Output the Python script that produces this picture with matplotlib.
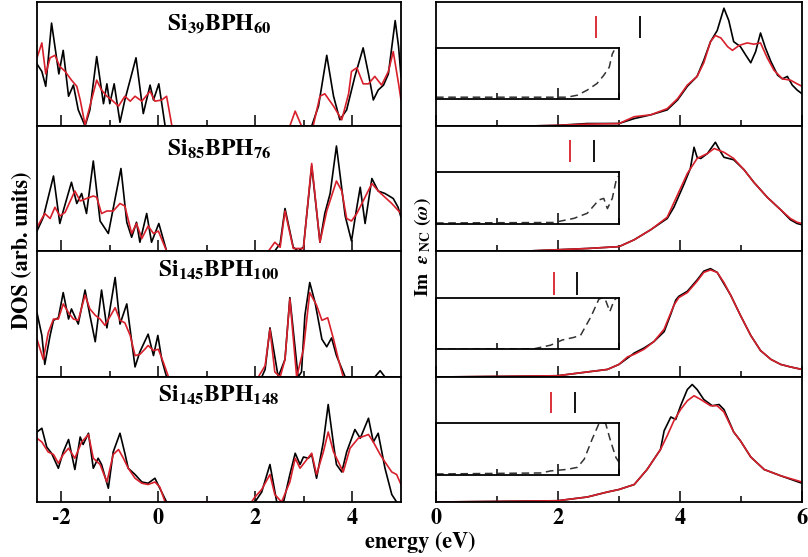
import matplotlib
matplotlib.use('Agg')
import matplotlib.pyplot as plt

plt.rcParams['font.family'] = 'STIXGeneral'
plt.rcParams['font.weight'] = 'bold'
plt.rcParams['mathtext.fontset'] = 'stix'
plt.rcParams['axes.unicode_minus'] = False

# ---- DOS (left column), energy in eV, DOS normalised to panel height ----
# Si39BPH60
dos1_e_blk = [-2.50, -2.40, -2.32, -2.20, -2.09, -2.05, -1.96, -1.85, -1.75, -1.65, -1.51, -1.41, -1.27, -1.13,
              -1.06, -1.00, -0.91, -0.79, -0.69, -0.46, -0.31, -0.17, -0.10, 0.01, 0.14,
              3.16, 3.30, 3.47, 3.61, 3.74, 3.88, 4.05, 4.22, 4.33, 4.43, 4.53, 4.64, 4.74, 4.88, 4.95, 5.00]
dos1_blk = [0.50, 0.44, 0.32, 0.83, 0.53, 0.42, 0.61, 0.24, 0.33, 0.13, 0.00, 0.13, 0.56, 0.18,
            0.34, 0.18, 0.34, 0.03, 0.21, 0.55, 0.10, 0.33, 0.21, 0.34, 0.00,
            0.00, 0.16, 0.57, 0.24, 0.05, 0.13, 0.40, 0.63, 0.42, 0.21, 0.29, 0.33, 0.42, 0.85, 0.64, 0.40]
dos1_e_red = [-2.50, -2.40, -2.32, -2.23, -2.13, -2.03, -1.92, -1.79, -1.68, -1.61, -1.51, -1.41, -1.27, -1.17,
              -1.06, -0.96, -0.82, -0.69, -0.58, -0.48, -0.34, -0.17, -0.07, 0.07, 0.17, 0.28,
              2.71, 2.82, 2.95, 3.19, 3.33, 3.43, 3.61, 3.78, 3.92, 3.98, 4.09, 4.22, 4.33, 4.46, 4.60, 4.74,
              4.84, 4.95, 5.00]
dos1_red = [0.55, 0.67, 0.42, 0.55, 0.57, 0.48, 0.44, 0.37, 0.32, 0.21, 0.01, 0.16, 0.37, 0.29,
            0.24, 0.21, 0.16, 0.24, 0.20, 0.24, 0.20, 0.28, 0.20, 0.21, 0.24, 0.00,
            0.00, 0.12, 0.00, 0.00, 0.24, 0.26, 0.16, 0.05, 0.26, 0.44, 0.47, 0.34, 0.34, 0.40, 0.33, 0.44,
            0.60, 0.34, 0.21]

# Si85BPH76
dos2_e_blk = [-2.50, -2.37, -2.16, -2.03, -1.96, -1.79, -1.68, -1.58, -1.48, -1.34, -1.20, -1.03, -0.93, -0.77,
              -0.65, -0.55, -0.45, -0.38, -0.24, -0.14, 0.01, 0.17,
              2.40, 2.51, 2.61, 2.78, 2.88, 2.99, 3.16, 3.33, 3.43, 3.54, 3.67, 3.85, 3.98, 4.09, 4.16, 4.26,
              4.40, 4.53, 4.67, 4.84, 4.94, 5.00]
dos2_blk = [0.16, 0.27, 0.60, 0.22, 0.32, 0.55, 0.38, 0.46, 0.30, 0.72, 0.24, 0.14, 0.34, 0.66,
            0.23, 0.11, 0.23, 0.07, 0.30, 0.07, 0.22, 0.00,
            0.00, 0.06, 0.34, 0.03, 0.00, 0.03, 0.68, 0.07, 0.30, 0.46, 0.84, 0.28, 0.08, 0.35, 0.51, 0.22,
            0.58, 0.48, 0.46, 0.42, 0.35, 0.27]
dos2_e_red = [-2.50, -2.34, -2.23, -2.13, -2.03, -1.92, -1.72, -1.61, -1.48, -1.34, -1.27, -1.17, -1.06, -0.93,
              -0.79, -0.69, -0.55, -0.45, -0.34, -0.21, -0.10, 0.00, 0.17,
              2.27, 2.40, 2.51, 2.61, 2.78, 2.99, 3.16, 3.33, 3.47, 3.67, 3.78, 3.88, 3.98, 4.09, 4.22, 4.40,
              4.53, 4.67, 4.81, 5.00]
dos2_red = [0.19, 0.30, 0.26, 0.35, 0.28, 0.31, 0.48, 0.40, 0.42, 0.44, 0.43, 0.30, 0.32, 0.32,
            0.38, 0.36, 0.14, 0.22, 0.10, 0.20, 0.14, 0.16, 0.00,
            0.00, 0.07, 0.03, 0.32, 0.02, 0.02, 0.70, 0.07, 0.32, 0.56, 0.48, 0.26, 0.24, 0.30, 0.40, 0.54,
            0.48, 0.43, 0.38, 0.30]

# Si145BPH100
dos3_e_blk = [-2.50, -2.40, -2.34, -2.23, -2.16, -2.06, -1.96, -1.85, -1.79, -1.65, -1.51, -1.41, -1.30, -1.17,
              -1.06, -0.89, -0.79, -0.65, -0.48, -0.38, -0.21, -0.10, -0.01, 0.07, 0.17,
              2.13, 2.20, 2.30, 2.47, 2.61, 2.71, 2.88, 2.95, 3.02, 3.12, 3.23, 3.37, 3.47, 3.57, 3.67, 3.85,
              4.46, 4.57, 4.67]
dos3_blk = [0.51, 0.33, 0.10, 0.33, 0.45, 0.47, 0.67, 0.46, 0.54, 0.42, 0.69, 0.49, 0.28, 0.69,
            0.39, 0.79, 0.42, 0.58, 0.08, 0.20, 0.34, 0.17, 0.33, 0.14, 0.00,
            0.00, 0.06, 0.39, 0.00, 0.14, 0.63, 0.00, 0.04, 0.49, 0.75, 0.59, 0.30, 0.24, 0.31, 0.17, 0.00,
            0.00, 0.05, 0.00]
dos3_e_red = [-2.50, -2.37, -2.27, -2.16, -2.06, -1.96, -1.85, -1.75, -1.65, -1.51, -1.41, -1.30, -1.20, -1.10,
              -0.89, -0.79, -0.69, -0.58, -0.48, -0.38, -0.28, -0.21, -0.10, 0.00, 0.10, 0.21,
              2.06, 2.20, 2.30, 2.40, 2.51, 2.61, 2.71, 2.85, 2.99, 3.12, 3.26, 3.37, 3.49, 3.61, 3.71, 3.81]
dos3_red = [0.30, 0.14, 0.35, 0.46, 0.46, 0.58, 0.51, 0.46, 0.45, 0.65, 0.54, 0.49, 0.46, 0.41,
            0.55, 0.45, 0.43, 0.33, 0.17, 0.18, 0.22, 0.25, 0.21, 0.22, 0.12, 0.00,
            0.00, 0.09, 0.38, 0.04, 0.00, 0.14, 0.62, 0.00, 0.22, 0.67, 0.57, 0.45, 0.47, 0.30, 0.14, 0.00]

# Si145BPH148
dos4_e_blk = [-2.50, -2.40, -2.30, -2.20, -2.06, -1.96, -1.85, -1.72, -1.61, -1.55, -1.44, -1.34, -1.24, -1.17,
              -1.03, -0.93, -0.79, -0.69, -0.62, -0.48, -0.34, -0.21, -0.07, 0.03, 0.17,
              1.99, 2.13, 2.30, 2.44, 2.58, 2.71, 2.82, 2.92, 2.99, 3.09, 3.16, 3.26, 3.40, 3.50, 3.61, 3.67,
              3.78, 3.88, 4.05, 4.16, 4.33, 4.43, 4.53, 4.67, 4.81, 4.91]
dos4_blk = [0.56, 0.59, 0.44, 0.39, 0.27, 0.40, 0.50, 0.26, 0.52, 0.46, 0.55, 0.27, 0.35, 0.30,
            0.11, 0.40, 0.55, 0.39, 0.27, 0.22, 0.16, 0.15, 0.19, 0.11, 0.00,
            0.00, 0.08, 0.30, 0.00, 0.00, 0.22, 0.39, 0.30, 0.36, 0.35, 0.38, 0.19, 0.48, 0.78, 0.46, 0.30,
            0.24, 0.40, 0.58, 0.51, 0.67, 0.48, 0.55, 0.27, 0.06, 0.00]
dos4_e_red = [-2.50, -2.40, -2.27, -2.16, -2.06, -1.96, -1.85, -1.72, -1.58, -1.44, -1.34, -1.20, -1.06, -0.93,
              -0.82, -0.72, -0.62, -0.48, -0.34, -0.21, -0.07, 0.03, 0.14,
              1.92, 1.99, 2.13, 2.30, 2.40, 2.54, 2.71, 2.82, 2.92, 3.02, 3.16, 3.26, 3.40, 3.50, 3.61, 3.71,
              3.81, 3.95, 4.12, 4.33, 4.43, 4.57, 4.67, 4.81, 4.91, 5.00]
dos4_red = [0.51, 0.48, 0.40, 0.38, 0.31, 0.38, 0.43, 0.35, 0.48, 0.54, 0.35, 0.30, 0.16, 0.38,
            0.42, 0.35, 0.27, 0.19, 0.15, 0.14, 0.16, 0.12, 0.00,
            0.00, 0.04, 0.10, 0.22, 0.06, 0.00, 0.16, 0.35, 0.27, 0.32, 0.39, 0.22, 0.40, 0.56, 0.40, 0.32,
            0.24, 0.43, 0.51, 0.54, 0.48, 0.38, 0.32, 0.24, 0.22, 0.14]

# ---- Im eps_NC (right column) ----
abs1_e_blk = [0.0, 1.50, 1.99, 2.48, 3.00, 3.25, 3.52, 3.79, 3.96, 4.12, 4.28, 4.39, 4.50, 4.61, 4.72,
              4.80, 4.88, 4.99, 5.08, 5.16, 5.24, 5.32, 5.40, 5.49, 5.60, 5.68, 5.76, 5.84, 5.92, 6.00]
abs1_blk = [0.0, 0.0, 0.005, 0.02, 0.02, 0.06, 0.09, 0.13, 0.21, 0.32, 0.40, 0.53, 0.68, 0.77, 0.95,
            0.85, 0.68, 0.64, 0.57, 0.51, 0.60, 0.75, 0.63, 0.52, 0.41, 0.38, 0.40, 0.33, 0.29, 0.26]
abs1_e_red = [0.0, 1.50, 1.99, 2.48, 3.00, 3.25, 3.52, 3.79, 3.96, 4.12, 4.28, 4.39, 4.50, 4.58, 4.67,
              4.78, 4.86, 4.97, 5.10, 5.21, 5.32, 5.43, 5.54, 5.68, 5.81, 5.92, 6.00]
abs1_red = [0.0, 0.0, 0.005, 0.015, 0.02, 0.075, 0.09, 0.14, 0.22, 0.33, 0.40, 0.51, 0.68, 0.73, 0.71,
            0.64, 0.61, 0.65, 0.67, 0.66, 0.67, 0.55, 0.45, 0.38, 0.37, 0.34, 0.32]

abs2_e_blk = [0.0, 1.50, 1.99, 2.48, 3.00, 3.25, 3.52, 3.79, 3.90, 4.07, 4.17, 4.23, 4.28, 4.34, 4.45,
              4.58, 4.67, 4.72, 4.88, 5.05, 5.21, 5.43, 5.65, 5.81, 5.92, 6.00]
abs2_blk = [0.0, 0.0, 0.01, 0.02, 0.035, 0.09, 0.17, 0.26, 0.35, 0.54, 0.66, 0.83, 0.75, 0.74, 0.78,
            0.87, 0.79, 0.75, 0.73, 0.65, 0.55, 0.43, 0.33, 0.25, 0.22, 0.21]
abs2_e_red = [0.0, 1.50, 1.99, 2.48, 3.00, 3.25, 3.52, 3.79, 3.96, 4.12, 4.28, 4.45, 4.56, 4.72, 4.88,
              5.05, 5.21, 5.43, 5.65, 5.81, 5.92, 6.00]
abs2_red = [0.0, 0.0, 0.01, 0.02, 0.035, 0.09, 0.17, 0.27, 0.45, 0.62, 0.74, 0.78, 0.82, 0.79, 0.74,
            0.65, 0.55, 0.43, 0.33, 0.26, 0.23, 0.22]

abs3_e_blk = [0.0, 1.06, 1.99, 2.48, 2.81, 3.00, 3.14, 3.25, 3.41, 3.57, 3.74, 3.85, 3.93, 3.98, 4.12,
              4.28, 4.39, 4.50, 4.61, 4.72, 4.83, 4.99, 5.16, 5.32, 5.49, 5.65, 5.81, 6.00]
abs3_blk = [0.0, 0.005, 0.01, 0.04, 0.06, 0.10, 0.15, 0.19, 0.23, 0.28, 0.36, 0.50, 0.61, 0.64, 0.68,
            0.77, 0.84, 0.86, 0.83, 0.74, 0.65, 0.49, 0.33, 0.21, 0.14, 0.10, 0.08, 0.06]
abs3_e_red = [0.0, 1.06, 1.99, 2.48, 2.81, 3.00, 3.14, 3.25, 3.41, 3.57, 3.74, 3.90, 3.98, 4.12, 4.28,
              4.39, 4.50, 4.61, 4.72, 4.83, 4.99, 5.16, 5.32, 5.49, 5.65, 5.81, 6.00]
abs3_red = [0.0, 0.005, 0.01, 0.04, 0.06, 0.10, 0.16, 0.18, 0.22, 0.28, 0.38, 0.57, 0.63, 0.67, 0.76,
            0.83, 0.85, 0.83, 0.75, 0.65, 0.49, 0.33, 0.21, 0.14, 0.10, 0.08, 0.06]

abs4_e_blk = [0.0, 1.06, 1.99, 2.48, 2.81, 3.00, 3.25, 3.46, 3.68, 3.74, 3.85, 3.93, 4.01, 4.12, 4.20,
              4.28, 4.39, 4.53, 4.64, 4.72, 4.88, 4.99, 5.16, 5.38, 5.65, 6.00]
abs4_blk = [0.0, 0.005, 0.01, 0.04, 0.08, 0.10, 0.14, 0.26, 0.42, 0.57, 0.68, 0.66, 0.77, 0.90, 0.94,
            0.90, 0.82, 0.77, 0.78, 0.74, 0.56, 0.49, 0.36, 0.26, 0.21, 0.15]
abs4_e_red = [0.0, 1.06, 1.99, 2.48, 2.81, 3.00, 3.25, 3.46, 3.68, 3.79, 3.90, 4.01, 4.12, 4.23, 4.34,
              4.50, 4.61, 4.72, 4.88, 4.99, 5.16, 5.38, 5.65, 6.00]
abs4_red = [0.0, 0.005, 0.01, 0.04, 0.08, 0.10, 0.14, 0.26, 0.42, 0.53, 0.65, 0.74, 0.81, 0.85, 0.82,
            0.77, 0.77, 0.72, 0.56, 0.49, 0.36, 0.26, 0.21, 0.16]

# insets (dashed, 0-3 eV)
ins1_e = [0.0, 2.15, 2.32, 2.48, 2.64, 2.75, 2.84, 2.89, 2.92]
ins1 = [0.03, 0.03, 0.07, 0.17, 0.30, 0.46, 0.62, 0.88, 0.95]
ins2_e = [0.0, 1.93, 2.26, 2.48, 2.67, 2.75, 2.81, 2.89, 2.96, 2.99]
ins2 = [0.01, 0.02, 0.10, 0.20, 0.46, 0.49, 0.29, 0.49, 0.88, 0.92]
ins3_e = [0.0, 1.61, 1.88, 2.07, 2.26, 2.37, 2.54, 2.67, 2.73, 2.78, 2.85, 2.92, 2.96]
ins3 = [0.0, 0.01, 0.08, 0.18, 0.23, 0.27, 0.63, 0.97, 1.0, 0.95, 0.73, 0.95, 0.99]
ins4_e = [0.0, 1.72, 1.88, 2.15, 2.32, 2.43, 2.56, 2.67, 2.73, 2.78, 2.86, 2.95, 3.00]
ins4 = [0.01, 0.03, 0.07, 0.10, 0.14, 0.30, 0.69, 0.99, 1.0, 1.0, 0.66, 0.33, 0.24]

# optical gap markers (eV)
gap_red = [2.63, 2.19, 1.93, 1.88]
gap_blk = [3.34, 2.59, 2.31, 2.28]

titles = [r'$\mathbf{Si_{39}BPH_{60}}$', r'$\mathbf{Si_{85}BPH_{76}}$',
          r'$\mathbf{Si_{145}BPH_{100}}$', r'$\mathbf{Si_{145}BPH_{148}}$']
left_ticklabels = ['-2', '0', '2', '4']
right_ticklabels = ['0', '2', '4', '6']

RED = '#d8202c'
W, H = 808, 557
edges = [2, 126, 251, 377, 502]
title_y = [0.77, 0.76, 0.80, 0.80]
mark_y = [(0.71, 0.89), (0.71, 0.89), (0.65, 0.83), (0.71, 0.88)]

dos_sets = [(dos1_e_blk, dos1_blk, dos1_e_red, dos1_red),
            (dos2_e_blk, dos2_blk, dos2_e_red, dos2_red),
            (dos3_e_blk, dos3_blk, dos3_e_red, dos3_red),
            (dos4_e_blk, dos4_blk, dos4_e_red, dos4_red)]
abs_sets = [(abs1_e_blk, abs1_blk, abs1_e_red, abs1_red),
            (abs2_e_blk, abs2_blk, abs2_e_red, abs2_red),
            (abs3_e_blk, abs3_blk, abs3_e_red, abs3_red),
            (abs4_e_blk, abs4_blk, abs4_e_red, abs4_red)]
ins_sets = [(ins1_e, ins1), (ins2_e, ins2), (ins3_e, ins3), (ins4_e, ins4)]


def style_axis(ax, major, minor):
    for s in ax.spines.values():
        s.set_linewidth(1.3)
    ax.set_xticks(major)
    ax.set_xticks(minor, minor=True)
    ax.set_yticks([])
    ax.tick_params(axis='x', which='major', direction='in', length=8, width=1.1, top=False)
    ax.tick_params(axis='x', which='minor', direction='in', length=4.5, width=1.1, top=False)


fig = plt.figure(figsize=(W / 100, H / 100), dpi=100)

for i in range(4):
    y0 = 1 - edges[i + 1] / H
    hgt = (edges[i + 1] - edges[i]) / H

    # DOS panel
    ax = fig.add_axes([37 / W, y0, 364 / W, hgt])
    e_k, d_k, e_r, d_r = dos_sets[i]
    ax.plot(e_k, d_k, color='black', lw=1.2)
    ax.plot(e_r, d_r, color=RED, lw=1.2)
    ax.set_xlim(-2.5, 5)
    ax.set_ylim(0, 1)
    style_axis(ax, [-2, 0, 2, 4], [-1, 1, 3])
    ax.text(0.5, title_y[i], titles[i], transform=ax.transAxes, ha='center', va='baseline', fontsize=17)
    if i == 3:
        ax.set_xticklabels(left_ticklabels)
        ax.tick_params(axis='x', labelsize=16, pad=4)
    else:
        ax.tick_params(axis='x', labelbottom=False)

    # absorption panel
    bx = fig.add_axes([436 / W, y0, 366 / W, hgt])
    e_k, a_k, e_r, a_r = abs_sets[i]
    bx.plot(e_k, a_k, color='black', lw=1.2)
    bx.plot(e_r, a_r, color=RED, lw=1.2)
    bx.vlines(gap_red[i], *mark_y[i], color=RED, lw=1.3)
    bx.vlines(gap_blk[i], *mark_y[i], color='black', lw=1.3)
    bx.set_xlim(0, 6)
    bx.set_ylim(0, 1)
    style_axis(bx, [0, 2, 4, 6], [1, 3, 5])
    if i == 3:
        bx.set_xticklabels(right_ticklabels)
        bx.tick_params(axis='x', labelsize=16, pad=4)
    else:
        bx.tick_params(axis='x', labelbottom=False)

    inx = bx.inset_axes([0, 0.22, 0.5, 0.41])
    inx.plot(ins_sets[i][0], ins_sets[i][1], color='#333333', lw=1.1, ls=(0, (5, 3)))
    inx.set_xlim(0, 3)
    inx.set_ylim(0, 1)
    inx.patch.set_alpha(0)
    style_axis(inx, [0, 2], [1, 3])
    inx.tick_params(axis='x', labelbottom=False)

fig.text(23 / W, 1 - 250 / H, 'DOS (arb. units)', rotation=90, ha='center', va='center', fontsize=16)
fig.text(423 / W, 1 - 247 / H, r'$\mathbf{Im}\ \ \epsilon\,_{\mathrm{NC}}\ (\omega)$', rotation=90,
         ha='center', va='center', fontsize=14)
fig.text(420 / W, 1 - 548 / H, 'energy (eV)', ha='center', va='baseline', fontsize=16)

fig.savefig('out.png', dpi=100)
